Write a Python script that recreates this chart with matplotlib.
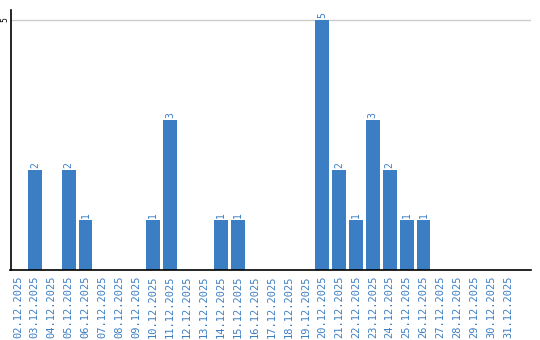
import numpy as np
import matplotlib.pyplot as plt

dates = ["%02d.12.2025" % d for d in range(2, 32)]
counts = [0, 2, 0, 2, 1, 0, 0, 0, 1, 3, 0, 0, 1, 1, 0,
          0, 0, 0, 5, 2, 1, 3, 2, 1, 1, 0, 0, 0, 0, 0]

blue = "#3c7ec3"
fig = plt.figure(figsize=(5.4, 3.4), dpi=100)
ax = fig.add_axes([10.5 / 540, 70 / 340, 520.5 / 540, 260 / 340])

x = np.arange(len(dates))
ax.bar(x, counts, width=0.82, color=blue, zorder=2)
for xi, c in zip(x, counts):
    if c > 0:
        ax.text(xi, c + 0.04, str(c), rotation=90, ha="center", va="bottom",
                color=blue, fontsize=7, family="DejaVu Sans Mono")

ax.set_xlim(-0.44, len(dates) - 1 + 1.36)
ax.set_ylim(0, 5.2)
ax.set_yticks([5])
ax.set_yticklabels(["5"], rotation=90, va="center", fontsize=5.5)
ax.axhline(5, color="#cccccc", lw=1, zorder=1)
ax.tick_params(axis="y", length=0, pad=1)
ax.set_xticks(x)
ax.set_xticklabels(dates, rotation=90, color=blue, fontsize=7.5, family="DejaVu Sans Mono")
ax.tick_params(axis="x", length=0, pad=4)
for s in ["top", "right"]:
    ax.spines[s].set_visible(False)
ax.spines["left"].set_linewidth(1.2)
ax.spines["bottom"].set_linewidth(1.2)

fig.savefig("out.png", dpi=100)
